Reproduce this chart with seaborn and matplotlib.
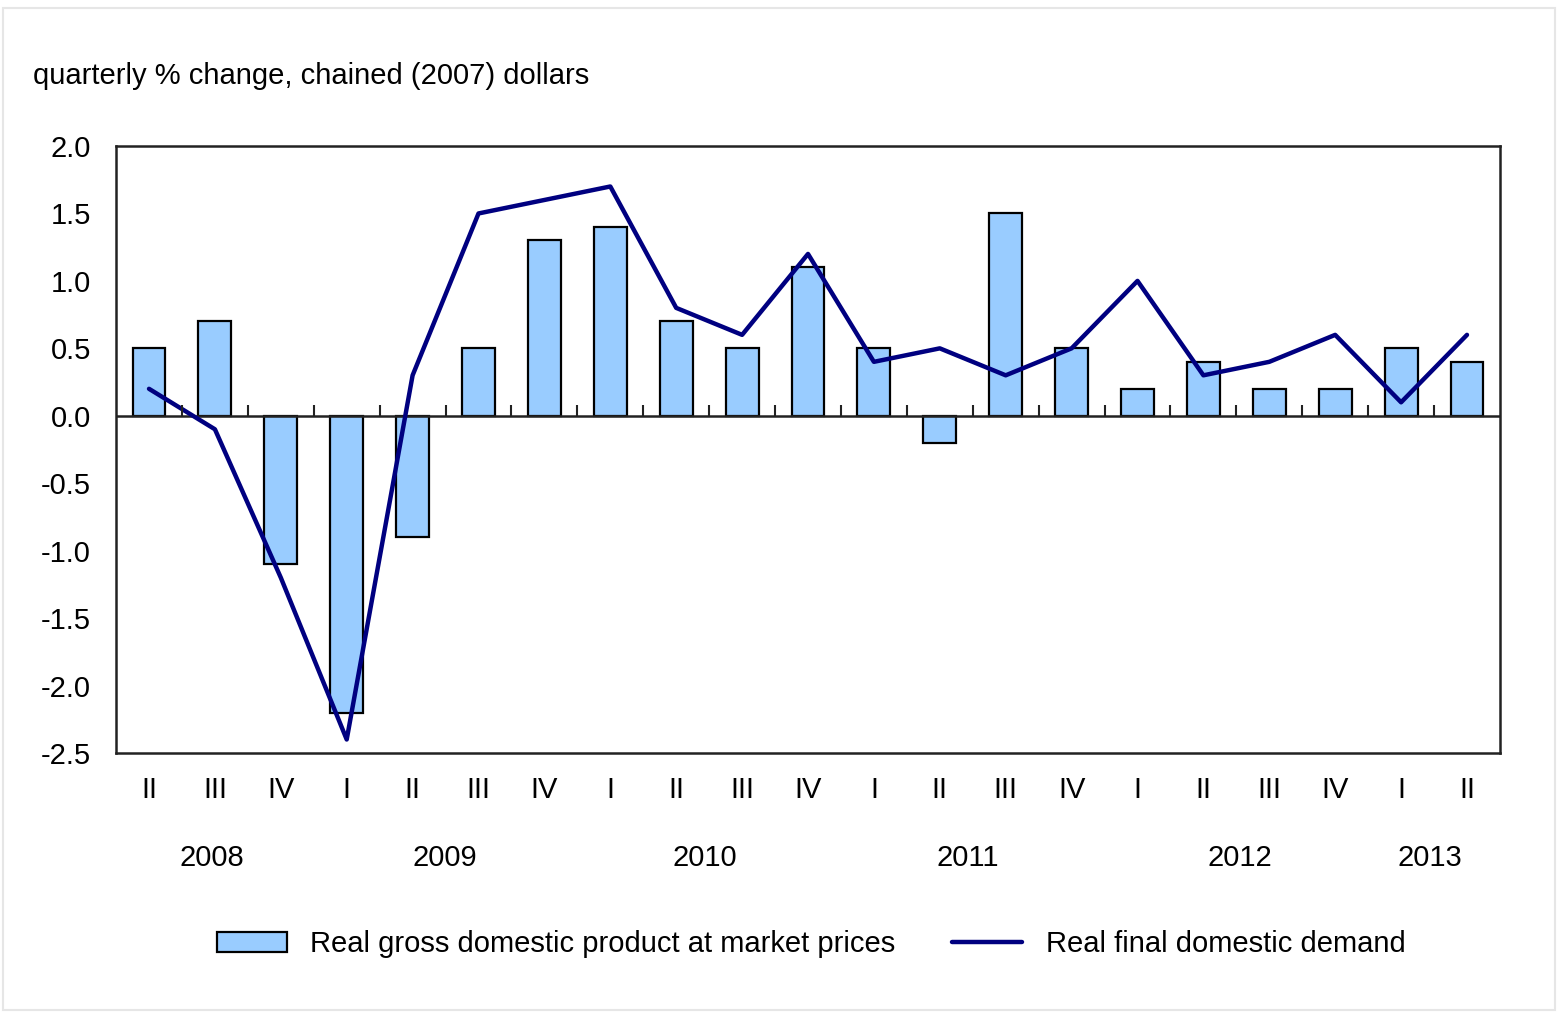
import numpy as np
import pandas as pd
import seaborn as sns
from matplotlib import pyplot as plt
from matplotlib.patches import Patch, Rectangle
from matplotlib.lines import Line2D
import matplotlib.transforms as mtransforms

# Quarterly % change, 2008 Q2 to 2013 Q2
quarters = ['II', 'III', 'IV', 'I', 'II', 'III', 'IV', 'I', 'II', 'III', 'IV',
            'I', 'II', 'III', 'IV', 'I', 'II', 'III', 'IV', 'I', 'II']
gdp = [0.5, 0.7, -1.1, -2.2, -0.9, 0.5, 1.3, 1.4, 0.7, 0.5, 1.1,
       0.5, -0.2, 1.5, 0.5, 0.2, 0.4, 0.2, 0.2, 0.5, 0.4]
demand = [0.2, -0.1, -1.2, -2.4, 0.3, 1.5, 1.6, 1.7, 0.8, 0.6, 1.2,
          0.4, 0.5, 0.3, 0.5, 1.0, 0.3, 0.4, 0.6, 0.1, 0.6]
years = ['2008', '2009', '2010', '2011', '2012', '2013']
year_pos = [0.96, 4.49, 8.44, 12.43, 16.56, 19.44]  # label placement under the quarters

df = pd.DataFrame({'idx': np.arange(len(gdp)), 'gdp': gdp, 'demand': demand})

sns.set_style('white')
plt.rcParams['font.family'] = ['Liberation Sans', 'DejaVu Sans']
plt.rcParams['text.color'] = 'black'
plt.rcParams['ytick.color'] = 'black'

bar_color = '#99ccff'
line_color = '#000080'
fs = 21

fig = plt.figure(figsize=(15.6, 10.14), dpi=100)
ax = fig.add_axes([0.0744, 0.2574, 0.8871, 0.5986])

sns.barplot(data=df, x='idx', y='gdp', color=bar_color, width=0.5,
            edgecolor='black', linewidth=1.6, saturation=1, ax=ax)
sns.lineplot(data=df, x='idx', y='demand', color=line_color, linewidth=3.2, ax=ax)

ax.set_xlim(-0.5, len(gdp) - 0.5)
ax.set_ylim(-2.5, 2.0)
yt = np.arange(-2.5, 2.01, 0.5)
ax.set_yticks(yt)
ax.set_yticklabels([f'{v:.1f}' for v in yt], fontsize=fs)
ax.tick_params(axis='y', direction='in', length=7, width=1.5, pad=18)
ax.set_xticks([])
ax.set_xlabel('')
ax.set_ylabel('')
for s in ax.spines.values():
    s.set_color('#222222')
    s.set_linewidth(1.8)

# zero line with small upward ticks between quarters
ax.axhline(0, color='#222222', linewidth=1.8, zorder=1)
trans = mtransforms.blended_transform_factory(ax.transData, ax.transAxes)
zero_frac = 2.5 / 4.5
ax.vlines(np.arange(len(gdp) - 1) + 0.5, zero_frac, zero_frac + 0.018,
          transform=trans, color='#222222', linewidth=1.5)

# quarter and year labels
for i, q in enumerate(quarters):
    ax.text(i, -0.061, q, transform=trans, ha='center', va='center', fontsize=fs)
for p, y in zip(year_pos, years):
    ax.text(p, -0.173, y, transform=trans, ha='center', va='center', fontsize=fs)

fig.text(0.021, 0.925, 'quarterly % change, chained (2007) dollars',
         ha='left', va='center', fontsize=fs)

handles = [Patch(facecolor=bar_color, edgecolor='black', linewidth=1.6),
           Line2D([0], [0], color=line_color, linewidth=3.2)]
labels = ['Real gross domestic product at market prices', 'Real final domestic demand']
fig.legend(handles, labels, loc='center', bbox_to_anchor=(0.52, 0.069), ncol=2,
           frameon=False, fontsize=fs, handlelength=2.4, handleheight=0.7,
           handletextpad=0.8, columnspacing=1.95)

# light frame around the whole picture
fig.patches.append(Rectangle((0.002, 0.004), 0.995, 0.988, transform=fig.transFigure,
                             fill=False, edgecolor='#e6e6e6', linewidth=1.5))

fig.savefig('out.png', dpi=100)
